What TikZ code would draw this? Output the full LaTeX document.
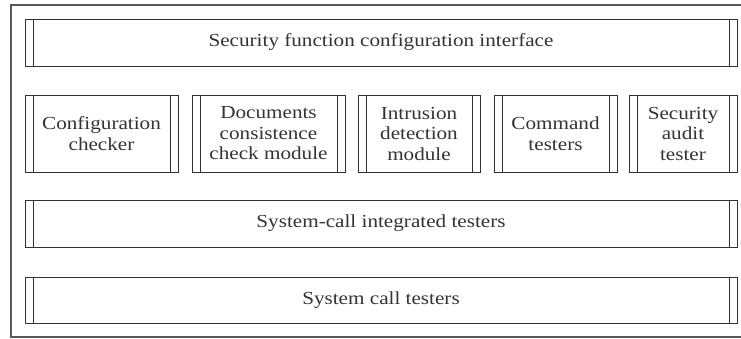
\documentclass[tikz,border=0pt]{standalone}
\usepackage{fontspec}
\setmainfont{Liberation Serif}[FakeStretch=1.15]
\tikzset{
  module/.style={draw=black!80, line width=0.9pt, align=center, inner sep=0pt,
    font=\fontsize{18.4}{20.5}\selectfont, text=black!80,
    path picture={
      \draw[black!80, line width=0.9pt]
        ([xshift=8pt]path picture bounding box.north west) --
        ([xshift=8pt]path picture bounding box.south west);
      \draw[black!80, line width=0.9pt]
        ([xshift=-8pt]path picture bounding box.north east) --
        ([xshift=-8pt]path picture bounding box.south east);
    }},
}
\begin{document}
\begin{tikzpicture}[x=1pt, y=-1pt]
      \useasboundingbox (0,0) rectangle (741,339);
      % ramik
      \draw[black!65, line width=1.4pt] (760,5) -- (11,5) -- (11,337) -- (760,337);
      % horne rozhranie
      \node[module, minimum width=712pt, minimum height=47pt] (iface) at (381,42.5)
        {Security function configuration interface};
      % moduly v strede
      \node[module, minimum width=153pt, minimum height=77pt] (checker) at (101.5,133.5)
        {Configuration\\checker};
      \node[module, minimum width=153pt, minimum height=77pt] (docs) at (268.5,133.5)
        {Documents\\consistence\\check module};
      \node[module, minimum width=122pt, minimum height=77pt] (intrusion) at (419,133.5)
        {Intrusion\\detection\\module};
      \node[module, minimum width=123pt, minimum height=77pt] (command) at (555.5,133.5)
        {Command\\testers};
      \node[module, minimum width=108pt, minimum height=77pt] (audit) at (683,133.5)
        {Security\\audit\\tester};
      % spodne vrstvy
      \node[module, minimum width=712pt, minimum height=47pt] (integrated) at (381,223.5)
        {System-call integrated testers};
      \node[module, minimum width=712pt, minimum height=46pt] (syscall) at (381,300)
        {System call testers};
\end{tikzpicture}
\end{document}
